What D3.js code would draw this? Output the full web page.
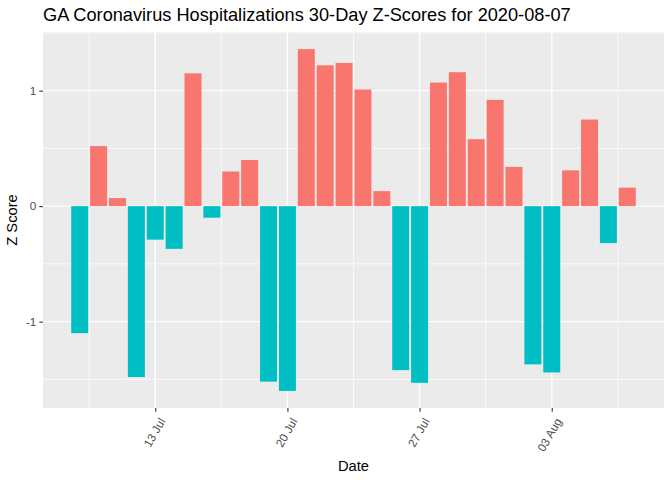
<!DOCTYPE html>
<html>
<head>
<meta charset="utf-8">
<script src="https://cdn.jsdelivr.net/npm/d3@7"></script>
<style>
  body { margin: 0; background: #fff; }
  text { font-family: "Liberation Sans", Arial, sans-serif; }
</style>
</head>
<body>
<div id="chart"></div>
<script>
// daily z-scores, 9 Jul .. 7 Aug 2020
const dates = [
    "2020-07-09", "2020-07-10", "2020-07-11", "2020-07-12", "2020-07-13", "2020-07-14",
    "2020-07-15", "2020-07-16", "2020-07-17", "2020-07-18", "2020-07-19", "2020-07-20",
    "2020-07-21", "2020-07-22", "2020-07-23", "2020-07-24", "2020-07-25", "2020-07-26",
    "2020-07-27", "2020-07-28", "2020-07-29", "2020-07-30", "2020-07-31", "2020-08-01",
    "2020-08-02", "2020-08-03", "2020-08-04", "2020-08-05", "2020-08-06", "2020-08-07"
]
const zScores = [
    -1.10, 0.52, 0.07, -1.48, -0.29, -0.37,
    1.15, -0.10, 0.30, 0.40, -1.52, -1.60,
    1.36, 1.22, 1.24, 1.01, 0.13, -1.42,
    -1.53, 1.07, 1.16, 0.58, 0.92, 0.34,
    -1.37, -1.44, 0.31, 0.75, -0.32, 0.16
]
const yTicks = [-1, 0, 1]
const yMinor = [-1.5, -0.5, 0.5, 1.5]
const xTickLabels = ["13 Jul", "20 Jul", "27 Jul", "03 Aug"]
const xTicks = ["2020-07-13", "2020-07-20", "2020-07-27", "2020-08-03"]

drawChart()

function drawChart() {
    const W = 672, H = 480
    const margin = { top: 32, right: 8, bottom: 72, left: 43 }
    const width = W - margin.left - margin.right
    const height = H - margin.top - margin.bottom
    const DAY = 864e5

    const parse = d3.utcParse("%Y-%m-%d")
    const data = dates.map((d, i) => ({ date: parse(d), z: zScores[i] }))

    // continuous date scale, bars take 0.9 of a day, ggplot style 5% expansion
    let x0 = +data[0].date - 0.45 * DAY
    let x1 = +data[data.length - 1].date + 0.45 * DAY
    let xPad = (x1 - x0) * 0.05
    const x = d3.scaleUtc()
        .domain([new Date(x0 - xPad), new Date(x1 + xPad)])
        .range([0, width])

    let yMin = d3.min(zScores), yMax = d3.max(zScores)
    let yPad = (yMax - yMin) * 0.05
    const y = d3.scaleLinear()
        .domain([yMin - yPad, yMax + yPad])
        .range([height, 0])

    const svg = d3.select("#chart").append("svg")
        .attr("width", W)
        .attr("height", H)

    svg.append("rect").attr("width", W).attr("height", H).attr("fill", "#fff")

    const g = svg.append("g")
        .attr("transform", `translate(${margin.left},${margin.top})`)

    g.append("rect")
        .attr("width", width)
        .attr("height", height)
        .attr("fill", "#EBEBEB")

    // minor grid: midway between the weekly breaks
    let majorX = xTicks.map(parse)
    let minorX = []
    for (let i = -1; i < majorX.length; i++) {
        let base = i < 0 ? +majorX[0] - 7 * DAY : +majorX[i]
        minorX.push(new Date(base + 3.5 * DAY))
    }
    minorX = minorX.filter(d => x(d) > 0 && x(d) < width)

    g.selectAll(".minx").data(minorX).enter().append("line")
        .attr("x1", d => x(d)).attr("x2", d => x(d))
        .attr("y1", 0).attr("y2", height)
        .attr("stroke", "#fff").attr("stroke-width", 0.7)

    g.selectAll(".miny").data(yMinor.filter(v => y(v) >= 0 && y(v) <= height)).enter().append("line")
        .attr("x1", 0).attr("x2", width)
        .attr("y1", d => y(d)).attr("y2", d => y(d))
        .attr("stroke", "#fff").attr("stroke-width", 0.7)

    g.selectAll(".majx").data(majorX).enter().append("line")
        .attr("x1", d => x(d)).attr("x2", d => x(d))
        .attr("y1", 0).attr("y2", height)
        .attr("stroke", "#fff").attr("stroke-width", 1.4)

    g.selectAll(".majy").data(yTicks).enter().append("line")
        .attr("x1", 0).attr("x2", width)
        .attr("y1", d => y(d)).attr("y2", d => y(d))
        .attr("stroke", "#fff").attr("stroke-width", 1.4)

    // bars
    let barW = x(new Date(+data[0].date + 0.9 * DAY)) - x(data[0].date)
    g.selectAll(".bar").data(data).enter().append("rect")
        .attr("x", d => x(d.date) - barW / 2)
        .attr("y", d => y(Math.max(0, d.z)))
        .attr("width", barW)
        .attr("height", d => Math.abs(y(d.z) - y(0)))
        .attr("fill", d => d.z > 0 ? "#F8766D" : "#00BFC4")

    // y axis
    const yAxis = g.append("g")
        .call(d3.axisLeft(y).tickValues(yTicks).tickSize(3.7).tickPadding(3).tickFormat(d3.format("d")))
    yAxis.select(".domain").remove()
    yAxis.selectAll("line").attr("stroke", "#333").attr("stroke-width", 1.1)
    yAxis.selectAll("text")
        .attr("fill", "#4D4D4D")
        .style("font-size", "11.7px")
        .text(d => d < 0 ? "-" + Math.abs(d) : d)

    // x axis
    const xAxis = g.append("g")
        .attr("transform", `translate(0,${height})`)
        .call(d3.axisBottom(x).tickValues(majorX).tickSize(3.7).tickFormat((d, i) => xTickLabels[i]))
    xAxis.select(".domain").remove()
    xAxis.selectAll("line").attr("stroke", "#333").attr("stroke-width", 1.1)
    xAxis.selectAll("text")
        .attr("fill", "#4D4D4D")
        .style("font-size", "11.7px")
        .attr("y", 0).attr("dy", 0)
        .attr("text-anchor", "end")
        .attr("transform", "translate(10,13) rotate(-60)")

    // titles
    svg.append("text")
        .attr("x", margin.left).attr("y", 21)
        .style("font-size", "18.2px")
        .attr("fill", "#000")
        .text("GA Coronavirus Hospitalizations 30-Day Z-Scores for 2020-08-07")

    svg.append("text")
        .attr("x", margin.left + width / 2).attr("y", 471)
        .attr("text-anchor", "middle")
        .style("font-size", "14.7px")
        .text("Date")

    svg.append("text")
        .attr("transform", `translate(17,${margin.top + height / 2}) rotate(-90)`)
        .attr("text-anchor", "middle")
        .style("font-size", "14.7px")
        .text("Z Score")
}
</script>
</body>
</html>
